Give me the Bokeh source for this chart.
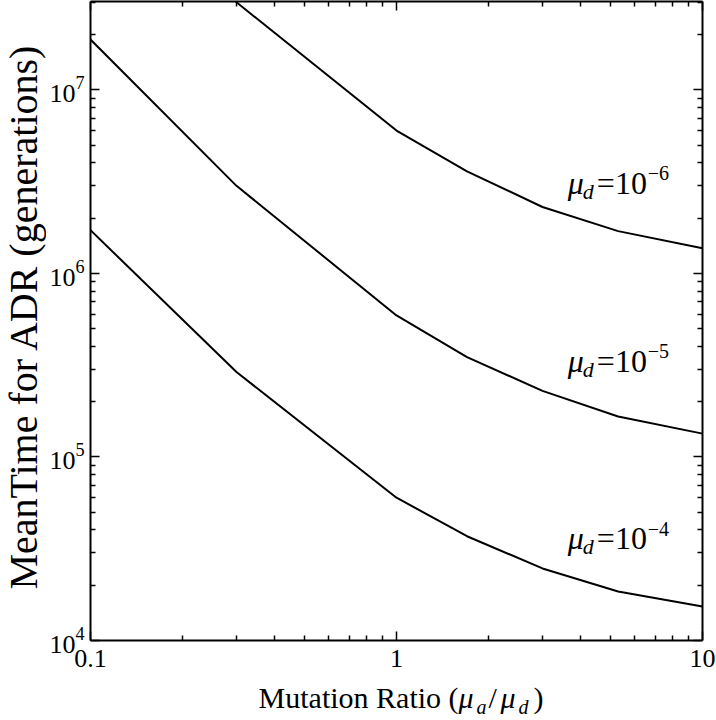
import math
from bokeh.plotting import figure
from bokeh.layouts import row, column
from bokeh.models import LogAxis, FixedTicker, CustomJSTickFormatter, Label, Range1d, LogTickFormatter
from bokeh.embed import file_html
from bokeh.resources import INLINE

# ---------------- data ----------------
x_ratio = [0.1, 0.3, 1.0, 1.7, 3.0, 5.3, 10.0]
t_mu_1e6 = [1.9e8, 3.0e7, 6.0e6, 3.6e6, 2.3e6, 1.7e6, 1.37e6]
t_mu_1e5 = [1.88e7, 3.0e6, 5.9e5, 3.5e5, 2.29e5, 1.66e5, 1.34e5]
t_mu_1e4 = [1.72e6, 2.9e5, 6.0e4, 3.7e4, 2.47e4, 1.85e4, 1.53e4]
series = [t_mu_1e6, t_mu_1e5, t_mu_1e4]
series_exponents = ["\u22126", "\u22125", "\u22124"]
label_x = [3.63, 3.63, 3.63]
label_y = [2.7e6, 2.9e5, 3.14e4]

x_major = [0.1, 1.0, 10.0]
x_minor = [0.2, 0.3, 0.4, 0.5, 0.6, 0.7, 0.8, 0.9, 2, 3, 4, 5, 6, 7, 8, 9]
y_major = [1e4, 1e5, 1e6, 1e7]
y_minor = [m * d for d in (1e4, 1e5, 1e6) for m in range(2, 10)] + [2e7, 3e7]
x_range = (0.1, 10.0)
y_range = (1e4, 3.03e7)

x_title = "Mutation Ratio ("
y_title = "MeanTime for ADR (generations)"

FONT = "Liberation Serif"
MID = 0.3375     # middle of the text box above the baseline, in em
LEFT_W = 46      # width of the strip holding the y title
MAIN_W = 716 - LEFT_W
MAIN_H = 680
TOTAL_H = 720
XT_H = TOTAL_H - MAIN_H

p = figure(width=MAIN_W, height=MAIN_H, x_axis_type="log", y_axis_type="log",
           x_range=Range1d(*x_range), y_range=Range1d(*y_range),
           output_backend="svg", toolbar_location=None,
           min_border_left=88 - LEFT_W, min_border_right=14, min_border_top=1, min_border_bottom=40)
p.outline_line_color = None
p.grid.visible = False

for s in series:
    p.line(x_ratio, s, line_color="black", line_width=2)

def style_axis(ax, ticks, minor, labels=True):
    ax.ticker = FixedTicker(ticks=ticks, minor_ticks=minor)
    ax.axis_line_width = 2
    ax.axis_line_color = "black"
    ax.major_tick_in = 9
    ax.major_tick_out = 0
    ax.minor_tick_in = 5
    ax.minor_tick_out = 0
    ax.major_tick_line_width = 1.5
    ax.minor_tick_line_width = 1.5
    ax.major_label_text_font = FONT
    ax.major_label_text_font_size = "26px"
    ax.major_label_text_color = "black"
    if not labels:
        ax.formatter = CustomJSTickFormatter(code="return ''")
        ax.major_label_text_font_size = "0px"
        ax.major_label_standoff = 0

xa = p.xaxis[0]
style_axis(xa, x_major, x_minor)
xa.formatter = CustomJSTickFormatter(code="return tick < 1 ? tick.toFixed(1) : tick.toFixed(0)")
xa.major_label_standoff = 9

ya = p.yaxis[0]
style_axis(ya, y_major, y_minor)
ya.formatter = LogTickFormatter()
ya.major_label_standoff = 6

top = LogAxis()
style_axis(top, x_major, x_minor, labels=False)
p.add_layout(top, "above")
right = LogAxis()
style_axis(right, y_major, y_minor, labels=False)
p.add_layout(right, "right")

def lab(fig, x, y, text, size, italic=False, dx=0, dy=0, angle=0, align="left", shift=True):
    # dy is the baseline offset; the text is anchored at the middle of its box
    fig.add_layout(Label(x=x, y=y, x_offset=dx,
                         y_offset=dy + (MID * size if shift else 0),
                         text=text, text_font=FONT, text_font_size=f"{size}px",
                         text_font_style="italic" if italic else "normal",
                         text_color="black", text_baseline="middle", text_align=align,
                         angle=angle))

# series labels  mu_d = 10^-n
for lx, ly, ex in zip(label_x, label_y, series_exponents):
    lab(p, lx, ly, "\u03bc", 32, italic=True)
    lab(p, lx, ly, "d", 22, italic=True, dx=15, dy=-5)
    lab(p, lx, ly, "=10", 32, dx=29)
    lab(p, lx, ly, ex, 20, dx=80, dy=14)

# x axis title strip (pixel-like ranges)
xt = figure(width=MAIN_W, height=XT_H, x_range=Range1d(0, MAIN_W),
            y_range=Range1d(0, XT_H), x_axis_type=None, y_axis_type=None,
            output_backend="svg", toolbar_location=None,
            min_border_left=0, min_border_right=0, min_border_top=0, min_border_bottom=0,
            outline_line_color=None)
xt.grid.visible = False
bx, by = 184, 13
lab(xt, bx, by, x_title, 30)
lab(xt, bx, by, "\u03bc", 30, italic=True, dx=200)
lab(xt, bx, by, "a", 20, italic=True, dx=218, dy=-6)
lab(xt, bx, by, "/", 30, dx=230)
lab(xt, bx, by, "\u03bc", 30, italic=True, dx=242)
lab(xt, bx, by, "d", 20, italic=True, dx=260, dy=-6)
lab(xt, bx, by, ")", 30, dx=275)

# y axis title strip
yt = figure(width=LEFT_W, height=TOTAL_H, x_range=Range1d(0, LEFT_W), y_range=Range1d(0, TOTAL_H),
            x_axis_type=None, y_axis_type=None, output_backend="svg", toolbar_location=None,
            min_border_left=0, min_border_right=0, min_border_top=0, min_border_bottom=0,
            outline_line_color=None)
yt.grid.visible = False
lab(yt, 22.5, TOTAL_H - 316, y_title, 40, angle=math.pi / 2, align="center", shift=False)

layout = row(yt, column(p, xt))
open("out.html", "w").write(file_html(layout, INLINE))
